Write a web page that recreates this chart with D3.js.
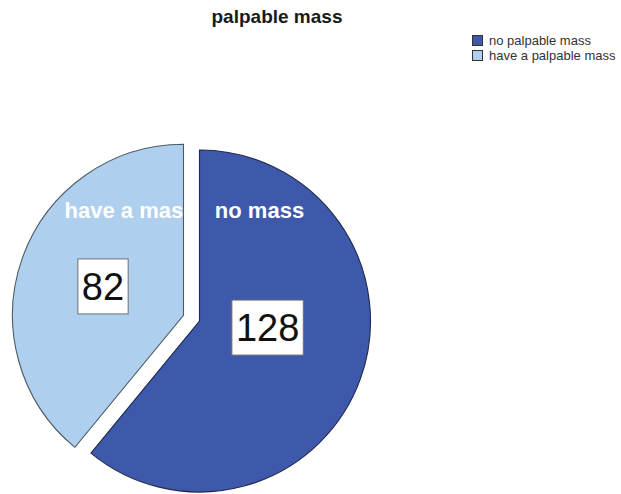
<!DOCTYPE html>
<html>
<head>
<meta charset="utf-8">
<script src="https://cdn.jsdelivr.net/npm/d3@7"></script>
<style>
  html, body { margin: 0; padding: 0; background: #ffffff; }
  svg { display: block; font-family: Arial, "Liberation Sans", sans-serif; }
</style>
</head>
<body>
<svg id="chart" width="621" height="494"></svg>
<script>
// Chart data
const title = "palpable mass";
const categories = ["no palpable mass", "have a palpable mass"];
const sliceLabels = ["no mass", "have a mass"];
const counts = [128, 82];
const colors = ["#3e58ac", "#aed0ee"];

// Layout
const W = 621, H = 494;
const center = [199.5, 321];
const radius = 171;
const explodeDist = 17;            // second slice is pulled out
const exploded = [false, true];
// name label: angle offset from the slice's top edge, radial distance (fraction of radius)
const nameLabelAngle = [0.494, -0.47];
const nameLabelDist = [0.74, 0.69];
// value box: angle / distance relative to slice centre
const valueAngle = [1.667, null];  // null -> slice mid-angle
const valueDist = [0.40, 0.5];

const svg = d3.select("#chart");

const pie = d3.pie().sort(null).value(d => d).startAngle(0).endAngle(2 * Math.PI);
const arcs = pie(counts);
const arcGen = d3.arc().innerRadius(0).outerRadius(radius);

function polar(a, r) { return [Math.sin(a) * r, -Math.cos(a) * r]; }

const slices = arcs.map((d, i) => {
  const mid = (d.startAngle + d.endAngle) / 2;
  const off = exploded[i] ? polar(mid, explodeDist) : [0, 0];
  return { d, i, mid, cx: center[0] + off[0], cy: center[1] + off[1] };
});

// Slices
svg.append("g").selectAll("path")
  .data(slices)
  .join("path")
  .attr("transform", s => `translate(${s.cx},${s.cy})`)
  .attr("d", s => arcGen(s.d))
  .attr("fill", s => colors[s.i])
  .attr("stroke", s => s.i === 0 ? "#1f2a4a" : "#4d5a66")
  .attr("stroke-width", 1.1)
  .attr("stroke-linejoin", "miter");

// Category names inside the slices
function namePos(s) {
  const edge = s.i === 0 ? s.d.startAngle : s.d.endAngle;
  const p = polar(edge + nameLabelAngle[s.i], radius * nameLabelDist[s.i]);
  return [s.cx + p[0], s.cy + p[1]];
}
svg.append("g").selectAll("text")
  .data(slices)
  .join("text")
  .attr("x", s => namePos(s)[0])
  .attr("y", s => namePos(s)[1])
  .attr("text-anchor", "middle")
  .attr("dy", "0.36em")
  .attr("fill", "#ffffff")
  .attr("font-size", 22)
  .attr("font-weight", "bold")
  .text(s => sliceLabels[s.i]);

// Value boxes
const vg = svg.append("g");
slices.forEach(s => {
  const a = valueAngle[s.i] == null ? s.mid : valueAngle[s.i];
  const p = polar(a, radius * valueDist[s.i]);
  const x = s.cx + p[0], y = s.cy + p[1];
  const g = vg.append("g").attr("transform", `translate(${x},${y})`);
  const rect = g.append("rect").attr("fill", "#ffffff").attr("stroke", "#6f6f6f").attr("stroke-width", 1);
  const t = g.append("text")
    .attr("text-anchor", "middle")
    .attr("dy", "0.36em")
    .attr("font-size", 38)
    .attr("fill", "#111111")
    .text(counts[s.i]);
  const w = t.node().getComputedTextLength() + 8;
  const h = 55;
  rect.attr("x", -w / 2).attr("y", -h / 2).attr("width", w).attr("height", h);
});

// Title
svg.append("text")
  .attr("x", 277).attr("y", 23)
  .attr("text-anchor", "middle")
  .attr("font-size", 19)
  .attr("font-weight", "bold")
  .attr("fill", "#1a1a1a")
  .text(title);

// Legend
const legend = svg.append("g").attr("transform", "translate(472,35)");
const items = legend.selectAll("g")
  .data(categories)
  .join("g")
  .attr("transform", (d, i) => `translate(0,${i * 15})`);
items.append("rect")
  .attr("x", 0.5).attr("y", 0.5)
  .attr("width", 10).attr("height", 10)
  .attr("fill", (d, i) => colors[i])
  .attr("stroke", "#333333").attr("stroke-width", 1);
items.append("text")
  .attr("x", 17).attr("y", 10)
  .attr("font-size", 13)
  .attr("fill", "#333333")
  .text(d => d);
</script>
</body>
</html>
